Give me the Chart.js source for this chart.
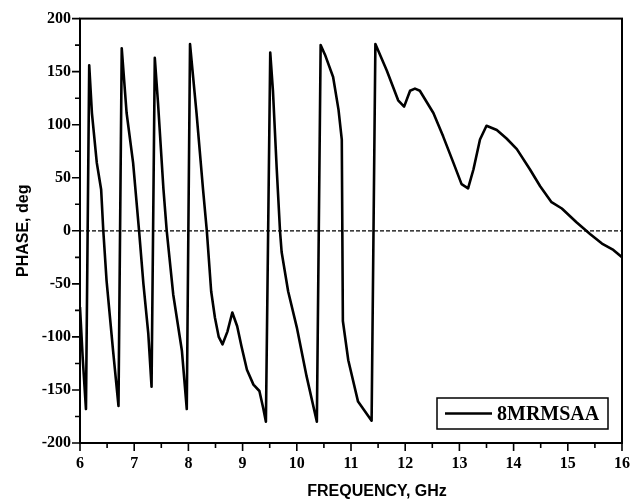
<!DOCTYPE html>
<html>
<head>
<meta charset="utf-8">
<script src="https://cdn.jsdelivr.net/npm/chart.js@4.4.1/dist/chart.umd.min.js"></script>
<style>
  html, body { margin: 0; padding: 0; background: #fff; }
</style>
</head>
<body>
<canvas id="phaseChart" width="644" height="503"></canvas>
<script>
// phase response
var freq = [6.0, 6.05, 6.11, 6.17, 6.22, 6.31, 6.39, 6.43, 6.49, 6.61,
            6.71, 6.77, 6.86, 6.98, 7.09, 7.17, 7.26, 7.32, 7.38, 7.44,
            7.54, 7.60, 7.72, 7.88, 7.97, 8.03, 8.15, 8.27, 8.34, 8.42,
            8.49, 8.56, 8.63, 8.72, 8.81, 8.90, 8.98, 9.08, 9.20, 9.31,
            9.38, 9.43, 9.51, 9.56, 9.63, 9.69, 9.72, 9.84, 10.0, 10.18,
            10.37, 10.44, 10.52, 10.67, 10.77, 10.83, 10.85, 10.95, 11.13, 11.38,
            11.45, 11.66, 11.87, 11.98, 12.09, 12.18, 12.27, 12.52, 12.70, 12.89,
            13.04, 13.16, 13.26, 13.38, 13.50, 13.69, 13.87, 14.06, 14.30, 14.49,
            14.70, 14.89, 15.16, 15.41, 15.63, 15.84, 16.0];
var phase = [-72, -120, -168, 156, 111, 64, 39, 0, -47, -113,
             -165, 172, 111, 64, 0, -50, -97, -147, 163, 120,
             39, 0, -60, -113, -168, 176, 111, 39, 0, -57,
             -82, -100, -107, -95, -77, -90, -109, -131, -145, -151,
             -167, -180, 168, 132, 58, 0, -20, -57, -91, -137,
             -180, 175, 166, 145, 114, 86, -85, -122, -161, -179,
             176, 151, 123, 117, 132, 134, 132, 111, 89, 64,
             44, 40, 58, 86, 99, 95, 87, 77, 58, 42,
             27, 21, 8, -3, -12, -18, -25];
var xTicks = [6, 7, 8, 9, 10, 11, 12, 13, 14, 15, 16];
var yTicks = [-200, -150, -100, -50, 0, 50, 100, 150, 200];
var seriesName = '8MRMSAA';

var points = freq.map(function (f, i) { return { x: f, y: phase[i] }; });

var serif = '"Liberation Serif", "Times New Roman", serif';
var sans = '"Liberation Sans", Arial, sans-serif';

// frame, ticks, zero line, legend box, x title
var decor = {
  id: 'decor',
  afterDraw: function (chart) {
    var ctx = chart.ctx, a = chart.chartArea;
    var xs = chart.scales.x, ys = chart.scales.y;
    ctx.save();
    ctx.strokeStyle = '#000';

    // zero line
    var y0 = ys.getPixelForValue(0);
    ctx.setLineDash([4, 2]);
    ctx.lineWidth = 1.2;
    ctx.beginPath();
    ctx.moveTo(a.left, y0);
    ctx.lineTo(a.right, y0);
    ctx.stroke();
    ctx.setLineDash([]);

    // frame
    ctx.lineWidth = 2;
    ctx.strokeRect(a.left, a.top, a.right - a.left, a.bottom - a.top);

    // ticks, outside
    ctx.lineWidth = 1.6;
    ctx.beginPath();
    for (var v = 6; v <= 16.001; v += 0.5) {
      var px = xs.getPixelForValue(v);
      var len = Math.abs(v - Math.round(v)) < 0.01 ? 8 : 5;
      ctx.moveTo(px, a.bottom);
      ctx.lineTo(px, a.bottom + len);
    }
    for (var w = -200; w <= 200; w += 25) {
      var py = ys.getPixelForValue(w);
      var l2 = w % 50 === 0 ? 8 : 5;
      ctx.moveTo(a.left, py);
      ctx.lineTo(a.left - l2, py);
    }
    ctx.stroke();

    // legend box
    var bx = 437, by = 398, bw = 171, bh = 31;
    ctx.lineWidth = 1.5;
    ctx.strokeRect(bx, by, bw, bh);
    ctx.lineWidth = 2.5;
    ctx.beginPath();
    ctx.moveTo(445, by + bh / 2);
    ctx.lineTo(492, by + bh / 2);
    ctx.stroke();
    ctx.fillStyle = '#000';
    ctx.font = 'bold 20px ' + serif;
    ctx.textBaseline = 'middle';
    ctx.textAlign = 'left';
    ctx.fillText(chart.data.datasets[0].label, 497, by + bh / 2 + 1);

    // x axis title
    ctx.font = 'bold 16px ' + sans;
    ctx.textAlign = 'center';
    ctx.fillText('FREQUENCY, GHz', 377, 492);
    ctx.restore();
  }
};

new Chart(document.getElementById('phaseChart'), {
  type: 'scatter',
  data: {
    datasets: [{
      label: seriesName,
      data: points,
      showLine: true,
      borderColor: '#000',
      borderWidth: 2.6,
      borderJoinStyle: 'round',
      pointRadius: 0,
      tension: 0
    }]
  },
  options: {
    responsive: false,
    animation: false,
    devicePixelRatio: 1,
    layout: { padding: { top: 13, right: 22, left: 0, bottom: 0 } },
    plugins: { legend: { display: false }, tooltip: { enabled: false } },
    scales: {
      x: {
        type: 'linear',
        min: 6, max: 16,
        afterBuildTicks: function (s) { s.ticks = xTicks.map(function (v) { return { value: v }; }); },
        afterFit: function (s) { s.height = 60; },
        grid: { display: false, drawTicks: false },
        border: { display: false },
        ticks: { color: '#000', padding: 11, font: { family: serif, size: 16, weight: 'bold' } }
      },
      y: {
        min: -200, max: 200,
        afterBuildTicks: function (s) { s.ticks = yTicks.map(function (v) { return { value: v }; }); },
        afterFit: function (s) { s.width = 80; },
        grid: { display: false, drawTicks: false },
        border: { display: false },
        ticks: { color: '#000', padding: 9, font: { family: serif, size: 16, weight: 'bold' } },
        title: { display: true, text: 'PHASE, deg', color: '#000', padding: { top: 14, bottom: 0 },
                 font: { family: sans, size: 16, weight: 'bold' } }
      }
    }
  },
  plugins: [decor]
});
</script>
</body>
</html>
